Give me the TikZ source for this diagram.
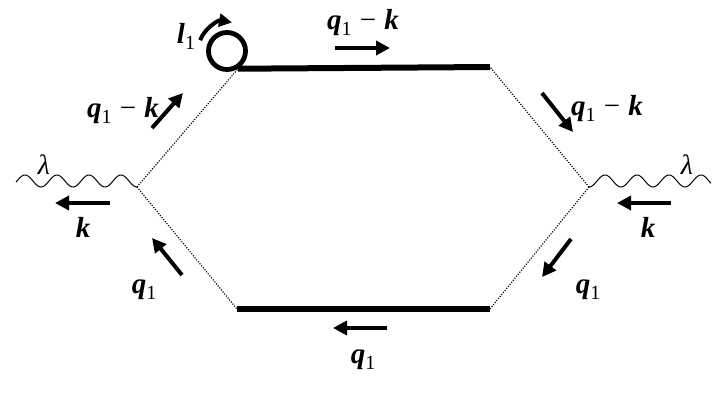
\documentclass[tikz,border=0pt]{standalone}
\usepackage{fontspec}
\setmainfont{Liberation Serif}
\usetikzlibrary{arrows.meta}
\newcommand{\bimath}[1]{\textbf{\textit{#1}}}
\newcommand{\lsub}[1]{\raisebox{-0.22em}{\fontsize{20}{20}\selectfont #1}}
\newcommand{\qmk}{\bimath{q}\lsub{1}\hspace{0.28em}−\hspace{0.28em}\bimath{k}}
\newcommand{\qone}{\bimath{q}\lsub{1}}
\begin{document}
\begin{tikzpicture}[x=1pt,y=1pt,
  lbl/.style={font=\fontsize{29}{33}\selectfont, inner sep=0pt, anchor=base},
  greek/.style={font=\fontsize{28}{32}\selectfont\itshape, inner sep=0pt},
  prop/.style={line width=6pt},
  ghost/.style={line width=1.2pt, dash pattern=on 1.1pt off 1.5pt},
  mom/.style={line width=4pt, -{Triangle[length=14pt,width=14pt]}},
  wave/.style={line width=1pt},
  loopnode/.style={circle, draw, line width=4.8pt, minimum size=37pt, inner sep=0pt}
]
\useasboundingbox (0,0) rectangle (720,-405);

% vertices
\coordinate (L) at (137,-187);
\coordinate (R) at (589,-187);
\coordinate (TR) at (490,-67);
\coordinate (BR) at (490,-309);
\coordinate (BL) at (237,-309);
\node[loopnode] (loop) at (227,-51) {};
\coordinate (TL) at (loop.-58);

% propagators
\draw[prop] (TL) -- (TR);
\draw[prop] (BL) -- (BR);
\draw[ghost] (L) -- (TL);
\draw[ghost] (L) -- (BL);
\draw[ghost] (R) -- (TR);
\draw[ghost] (R) -- (BR);

% photon lines
\draw[wave] plot[domain=16:137, samples=200, smooth] (\x, {-181-6*cos(11.25*(\x-137))});
\draw[wave] plot[domain=589:711, samples=200, smooth] (\x, {-181-6*cos(11.25*(\x-589))});

% rotation arrow of loop
\draw[line width=4pt, -{Triangle[length=13pt,width=13pt]}] (loop.center) ++(158:29) arc[start angle=158, end angle=80, radius=29];

% momentum arrows
\coordinate (a1s) at (152,-128); \coordinate (a1e) at (183,-93);
\coordinate (a2s) at (335,-48);  \coordinate (a2e) at (390,-48);
\coordinate (a3s) at (542,-93);  \coordinate (a3e) at (573,-132);
\coordinate (a4s) at (110,-203); \coordinate (a4e) at (55,-203);
\coordinate (a5s) at (671,-203); \coordinate (a5e) at (617,-203);
\coordinate (a6s) at (182,-275); \coordinate (a6e) at (152,-238);
\coordinate (a7s) at (571,-239); \coordinate (a7e) at (542,-277);
\coordinate (a8s) at (387,-328); \coordinate (a8e) at (333,-328);
\foreach \i in {1,...,8} {\draw[mom] (a\i s) -- (a\i e);}

% labels
\node[lbl] (t1) at (123,-117) {\qmk};
\node[lbl] (t2) at (363,-29) {\qmk};
\node[lbl] (t3) at (607,-115) {\qmk};
\node[lbl] (t4) at (83,-237) {\bimath{k}};
\node[lbl] (t5) at (648,-237) {\bimath{k}};
\node[lbl] (t6) at (144,-293) {\qone};
\node[lbl] (t7) at (588,-293) {\qone};
\node[lbl] (t8) at (363,-363) {\qone};
\node[lbl] (t9) at (186,-43) {\bimath{l}\lsub{1}};
\node[greek] (g1) at (44,-165) {λ};
\node[greek] (g2) at (687,-165) {λ};
\end{tikzpicture}
\end{document}
